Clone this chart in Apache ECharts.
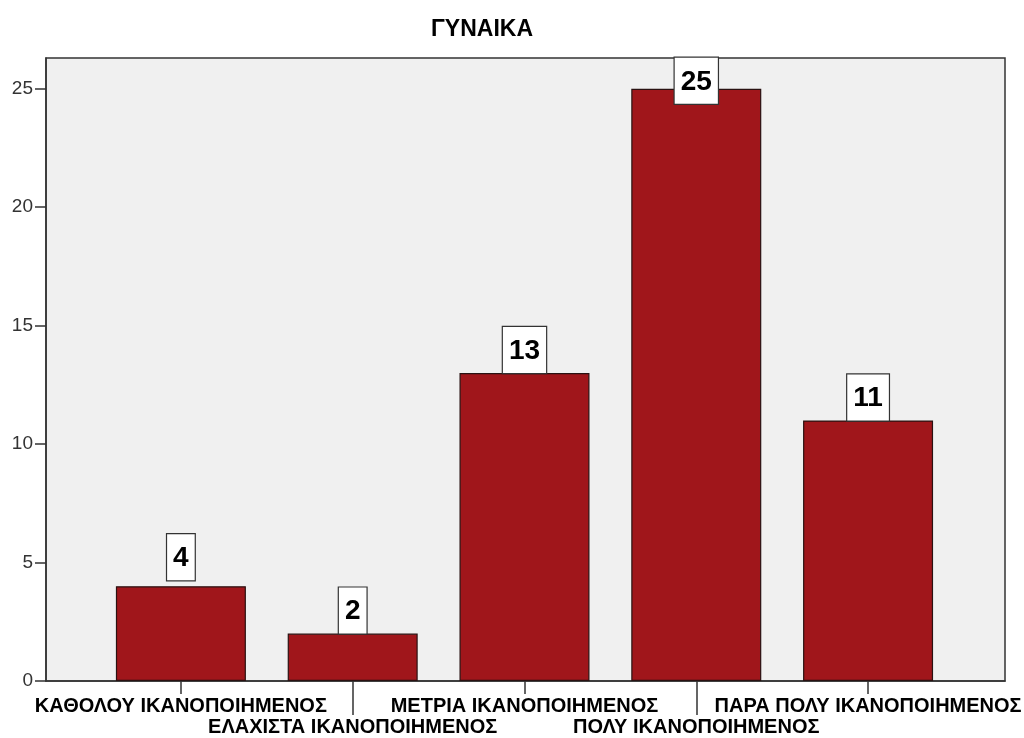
<!DOCTYPE html>
<html>
<head>
<meta charset="utf-8">
<script src="https://cdn.jsdelivr.net/npm/echarts@6/dist/echarts.min.js"></script>
<style>
  html, body { margin: 0; padding: 0; background: #ffffff; }
  #chart { width: 1024px; height: 738px; }
</style>
</head>
<body>
<div id="chart"></div>
<script>
// Satisfaction categories and their counts
const categories = [
  'ΚΑΘΟΛΟΥ ΙΚΑΝΟΠΟΙΗΜΕΝΟΣ',
  'ΕΛΑΧΙΣΤΑ ΙΚΑΝΟΠΟΙΗΜΕΝΟΣ',
  'ΜΕΤΡΙΑ ΙΚΑΝΟΠΟΙΗΜΕΝΟΣ',
  'ΠΟΛΥ ΙΚΑΝΟΠΟΙΗΜΕΝΟΣ',
  'ΠΑΡΑ ΠΟΛΥ ΙΚΑΝΟΠΟΙΗΜΕΝΟΣ'
];
const counts = [4, 2, 13, 25, 11];
const titleText = 'ΓΥΝΑΙΚΑ';
const yTicks = [0, 5, 10, 15, 20, 25];

const FONT = '"Liberation Sans", Arial, sans-serif';
const Y_MAX = 26.3;
const TOP = 58, BOTTOM = 738 - 681;

const chart = echarts.init(document.getElementById('chart'), null, { renderer: 'canvas' });

// Per-bar label tweaks: tallest label kept inside the frame, small one lifted a bit
const barData = counts.map((v, i) => {
  const item = { value: v };
  if (v === 25) item.label = { offset: [0, 15] };
  if (v === 4) item.label = { distance: 6 };
  return item;
});

const evenIdx = (i) => i % 2 === 0;
const oddIdx = (i) => i % 2 === 1;

chart.setOption({
  animation: false,
  backgroundColor: '#ffffff',
  title: {
    text: titleText,
    left: 426,
    top: 13,
    textStyle: { fontFamily: FONT, fontSize: 23, fontWeight: 'bold', color: '#000' }
  },
  grid: [
    // frame with the shaded plot background
    { left: 46, right: 1024 - 1005, top: TOP, bottom: BOTTOM, show: true,
      backgroundColor: '#F0F0F0', borderColor: '#333333', borderWidth: 1.5 },
    // bars area
    { left: 95, right: 64, top: TOP, bottom: BOTTOM }
  ],
  xAxis: [
    { gridIndex: 0, type: 'value', min: 0, max: 1, show: true,
      axisLine: { show: true, onZero: false, lineStyle: { color: '#333', width: 1.5 } },
      axisTick: { show: false }, axisLabel: { show: false }, splitLine: { show: false } },
    { gridIndex: 1, type: 'category', data: categories, boundaryGap: true,
      axisLine: { show: false },
      axisTick: { show: true, alignWithLabel: true, interval: (i) => evenIdx(i), inside: false,
        length: 13, lineStyle: { color: '#333', width: 1.5 } },
      axisLabel: { interval: (i) => evenIdx(i), margin: 15, fontFamily: FONT, fontSize: 20,
        fontWeight: 'bold', color: '#000' } },
    { gridIndex: 1, type: 'category', data: categories, boundaryGap: true, position: 'bottom',
      axisLine: { show: false },
      axisTick: { show: true, alignWithLabel: true, interval: (i) => oddIdx(i),
        length: 34, lineStyle: { color: '#333', width: 1.5 } },
      axisLabel: { interval: (i) => oddIdx(i), margin: 36, fontFamily: FONT, fontSize: 20,
        fontWeight: 'bold', color: '#000' } }
  ],
  yAxis: [
    { gridIndex: 0, type: 'value', min: 0, max: Y_MAX, interval: 5,
      axisLine: { show: true, lineStyle: { color: '#333', width: 1.5 } },
      axisTick: { show: true, length: 11, lineStyle: { color: '#333', width: 1.5 } },
      axisLabel: { margin: 13, fontFamily: FONT, fontSize: 19, color: '#333',
        showMaxLabel: false,
        formatter: (v) => (yTicks.indexOf(v) >= 0 ? String(v) : '') },
      splitLine: { show: false } },
    { gridIndex: 1, type: 'value', min: 0, max: Y_MAX, show: false }
  ],
  series: [
    {
      type: 'bar',
      xAxisIndex: 1,
      yAxisIndex: 1,
      data: barData,
      barWidth: 130,
      itemStyle: { color: '#A0161B', borderColor: '#2a1212', borderWidth: 1.2 },
      label: {
        show: true,
        position: 'top',
        distance: 0,
        fontFamily: FONT,
        fontSize: 28,
        fontWeight: 'bold',
        color: '#000',
        lineHeight: 30,
        backgroundColor: '#ffffff',
        borderColor: '#333',
        borderWidth: 1.2,
        padding: [9, 6, 7, 6]
      }
    }
  ]
});
</script>
</body>
</html>
